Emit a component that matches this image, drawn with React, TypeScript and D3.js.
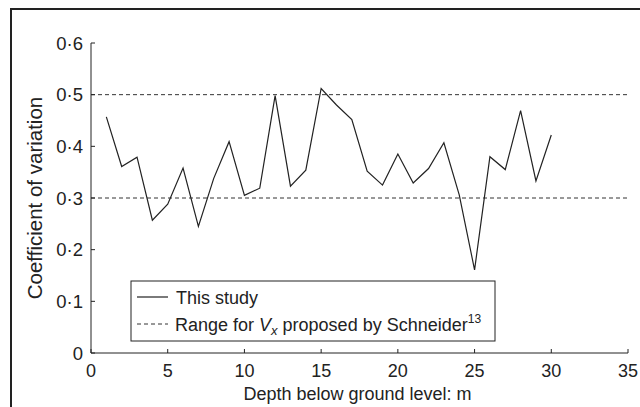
import * as d3 from "d3";

// depth (m) and coefficient of variation
const depths = [1, 2, 3, 4, 5, 6, 7, 8, 9, 10, 11, 12, 13, 14, 15, 16, 17, 18, 19, 20, 21, 22, 23, 24, 25, 26, 27, 28, 29, 30];
const cov = [0.457, 0.361, 0.379, 0.257, 0.288, 0.358, 0.245, 0.338, 0.409, 0.305, 0.319, 0.498, 0.323, 0.354, 0.512, 0.48, 0.452, 0.352, 0.325, 0.385, 0.329, 0.357, 0.407, 0.306, 0.161, 0.38, 0.355, 0.469, 0.333, 0.422];
const rangeLimits = [0.3, 0.5];
const xTicks = [0, 5, 10, 15, 20, 25, 30, 35];
const yTicks = [0, 0.1, 0.2, 0.3, 0.4, 0.5, 0.6];

const W = 640;
const H = 407;
const margin = { top: 43, right: 12, bottom: 54, left: 91 };
const font = "'Liberation Sans', Arial, Helvetica, sans-serif";
const ink = "#222";

const fmtY = (v: number) => (v === 0 ? "0" : v.toFixed(1).replace(".", "\u00b7"));

function Chart() {
  const x = d3.scaleLinear().domain([0, 35]).range([margin.left, W - margin.right]);
  const y = d3.scaleLinear().domain([0, 0.6]).range([H - margin.bottom, margin.top]);

  const line = d3
    .line<number>()
    .x((_, i) => x(depths[i]))
    .y((d) => y(d));

  const x0 = x(0);
  const y0 = y(0);

  // legend box
  const lg = { x: 131, y: 281, w: 364, h: 60 };

  return (
    <svg width={W} height={H} style={{ position: "absolute", left: 0, top: 0, background: "#fff" }}>
      {/* outer frame */}
      <rect x={11} y={9} width={700} height={500} fill="none" stroke={ink} strokeWidth={2} />

      {/* range lines */}
      {rangeLimits.map((r) => (
        <line key={r} x1={x0} x2={x(35)} y1={y(r)} y2={y(r)} stroke="#333" strokeWidth={1} strokeDasharray="4,3" />
      ))}

      {/* axes */}
      <line x1={x0} x2={x(35)} y1={y0} y2={y0} stroke={ink} strokeWidth={1} />
      <line x1={x0} x2={x0} y1={y0} y2={y(0.6)} stroke={ink} strokeWidth={1} />

      {xTicks.map((t) => (
        <g key={t}>
          <line x1={x(t)} x2={x(t)} y1={y0} y2={y0 - 4} stroke={ink} />
          <text x={x(t)} y={y0 + 24} textAnchor="middle" fontSize={18} fontFamily={font} fill={ink}>
            {t}
          </text>
        </g>
      ))}
      {yTicks.map((t) => (
        <g key={t}>
          <line x1={x0} x2={x0 + 4} y1={y(t)} y2={y(t)} stroke={ink} />
          <text x={83} y={y(t)} dy="0.36em" textAnchor="end" fontSize={18.5} fontFamily={font} fill={ink}>
            {fmtY(t)}
          </text>
        </g>
      ))}

      {/* axis titles */}
      <text x={(x0 + x(35)) / 2 - 2} y={400} textAnchor="middle" fontSize={18} fontFamily={font} fill={ink}>
        Depth below ground level: m
      </text>
      <text
        transform={`translate(42,${(y0 + y(0.6)) / 2}) rotate(-90)`}
        textAnchor="middle"
        fontSize={20.5}
        fontFamily={font}
        fill={ink}
      >
        Coefficient of variation
      </text>

      {/* data line */}
      <path d={line(cov) ?? ""} fill="none" stroke={ink} strokeWidth={1.2} />

      {/* legend */}
      <rect x={lg.x} y={lg.y} width={lg.w} height={lg.h} fill="#fff" stroke={ink} strokeWidth={1} />
      <line x1={lg.x + 6} x2={lg.x + 37} y1={lg.y + 16} y2={lg.y + 16} stroke={ink} strokeWidth={1.2} />
      <text x={lg.x + 45} y={lg.y + 23} fontSize={18} fontFamily={font} fill={ink}>
        This study
      </text>
      <line x1={lg.x + 6} x2={lg.x + 37} y1={lg.y + 43} y2={lg.y + 43} stroke="#333" strokeWidth={1} strokeDasharray="4,3" />
      <text x={lg.x + 44} y={lg.y + 50} fontSize={18} fontFamily={font} fill={ink}>
        Range for <tspan fontStyle="italic">V</tspan>
        <tspan fontStyle="italic" fontSize={13} dy={4}>x</tspan>
        <tspan dy={-4}> proposed by Schneider</tspan>
        <tspan fontSize={12} dy={-8}>13</tspan>
      </text>
    </svg>
  );
}

export default function App() {
  return <Chart />;
}
